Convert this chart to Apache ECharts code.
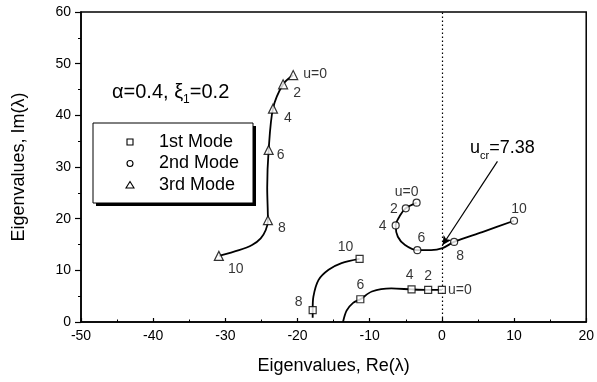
<!DOCTYPE html>
<html>
<head>
<meta charset="utf-8">
<script src="https://cdn.jsdelivr.net/npm/echarts@6/dist/echarts.min.js"></script>
<style>
  html, body { margin: 0; padding: 0; background: #fff; }
  #chart { width: 597px; height: 382px; }
</style>
</head>
<body>
<div id="chart"></div>
<script>
const FONT = '"Liberation Sans", Arial, Helvetica, sans-serif';

// Flow parameter u at each marked point on every locus
const uLabels = ['u=0', '2', '4', '6', '8', '10'];

// 1st mode: marked eigenvalues
const mode1Re = [0.0, -1.9, -4.2, -11.3, -17.9, -11.4];
const mode1Im = [6.2, 6.2, 6.3, 4.4, 2.3, 12.2];
// 1st mode locus: complex branch down to the real axis, then the second branch
const mode1PathA = [[0.0, 6.2], [-1.9, 6.2], [-4.2, 6.3], [-7.0, 6.5], [-9.7, 5.9], [-11.3, 4.4], [-12.3, 3.7], [-13.2, 2.2], [-13.7, 0.0]];
const mode1PathB = [[-17.9, 0.8], [-17.9, 2.3], [-17.8, 4.9], [-17.1, 8.1], [-15.7, 10.1], [-13.9, 11.4], [-11.4, 12.2]];

// 2nd mode
const mode2Re = [-3.5, -5.0, -6.4, -3.4, 1.7, 10.0];
const mode2Im = [23.1, 22.0, 18.7, 13.9, 15.5, 19.6];
const mode2Path = [[-3.5, 23.1], [-5.0, 22.0], [-5.8, 20.6], [-6.4, 18.7], [-6.1, 16.5], [-5.1, 14.9], [-3.4, 13.9], [-1.5, 13.9], [0.1, 14.3], [1.7, 15.5], [5.6, 17.4], [10.0, 19.6]];

// 3rd mode
const mode3Re = [-20.6, -22.0, -23.4, -24.0, -24.1, -30.9];
const mode3Im = [47.8, 46.0, 41.3, 33.3, 19.7, 12.8];
const mode3Path = [[-20.6, 47.8], [-22.0, 46.0], [-23.4, 41.3], [-24.0, 33.3], [-24.2, 26.0], [-24.1, 19.7], [-24.4, 17.8], [-25.1, 16.2], [-26.3, 14.9], [-28.1, 13.9], [-30.9, 12.8]];

// Flutter onset: arrow from the note to the crossing point
const criticalArrow = [[7.7, 31.1], [0.1, 14.9]];
const legendNames = ['1st Mode', '2nd Mode', '3rd Mode'];

// Label placement (pixel offsets from each marker)
const mode1LabelOffset = [[18, 0], [0, -14], [-2, -14], [0, -14], [-14, -8], [-14, -12]];
const mode2LabelOffset = [[-10, -11], [-12, 1], [-13, 1], [4, -12], [6, 14], [5, -12]];
const mode3LabelOffset = [[22, -1], [14, 9], [15, 10], [12, 5], [14, 8], [17, 13]];

const chart = echarts.init(document.getElementById('chart'), null, { renderer: 'canvas' });

function markers(re, im, offsets) {
  return re.map((x, i) => ({ value: [x, im[i]], label: { offset: offsets[i] } }));
}

const lineStyle = { color: '#000', width: 1.8 };
function locus(path) {
  return {
    type: 'line', data: path, showSymbol: false, symbol: 'none',
    smooth: 0.3, lineStyle, silent: true, z: 2, animation: false
  };
}
function markerSeries(name, symbol, size, data) {
  return {
    name, type: 'scatter', data, symbol, symbolSize: size, z: 5, silent: true,
    itemStyle: { color: '#fff', borderColor: '#000', borderWidth: 1.2 },
    label: {
      show: true, position: 'inside', color: '#000', fontFamily: FONT, fontSize: 14,
      formatter: p => uLabels[p.dataIndex]
    },
    animation: false
  };
}

// Text width helper for composing sub-scripted notes
const measureCtx = document.createElement('canvas').getContext('2d');
function textWidth(str, size) {
  measureCtx.font = size + 'px ' + FONT;
  return measureCtx.measureText(str).width;
}
function subscriptNote(x, y, parts) {
  // parts: [text, fontSize, downward shift]
  const children = [];
  let cx = 0;
  parts.forEach(([t, fs, dy]) => {
    children.push({
      type: 'text', x: cx, y: dy,
      style: { text: t, fontFamily: FONT, fontSize: fs, fill: '#000', verticalAlign: 'bottom', textVerticalAlign: 'bottom' }
    });
    cx += textWidth(t, fs);
  });
  return { type: 'group', x, y, children, silent: true };
}

// Boxed legend with a hard drop shadow
const legendBox = { x: 93, y: 123, w: 160, h: 80 };
const legendRowY = [142, 163.5, 185];
const legendGraphic = {
  type: 'group', silent: true, z: 20,
  children: [
    { type: 'rect', shape: { x: legendBox.x + 3, y: legendBox.y + 3, width: legendBox.w, height: legendBox.h }, style: { fill: '#000' } },
    { type: 'rect', shape: { x: legendBox.x, y: legendBox.y, width: legendBox.w, height: legendBox.h }, style: { fill: '#fff', stroke: '#000', lineWidth: 1 } },
    { type: 'rect', shape: { x: 127, y: legendRowY[0] - 3, width: 6, height: 6 }, style: { fill: '#fff', stroke: '#000', lineWidth: 1.1 } },
    { type: 'circle', shape: { cx: 130, cy: legendRowY[1], r: 3 }, style: { fill: '#fff', stroke: '#000', lineWidth: 1.1 } },
    { type: 'polygon', shape: { points: [[130, legendRowY[2] - 3.5], [134, legendRowY[2] + 3], [126, legendRowY[2] + 3]] }, style: { fill: '#fff', stroke: '#000', lineWidth: 1.1 } },
    ...legendNames.map((n, i) => ({
      type: 'text', x: 159, y: legendRowY[i],
      style: { text: n, fontFamily: FONT, fontSize: 18, fill: '#000', verticalAlign: 'middle', textVerticalAlign: 'middle' }
    }))
  ]
};

const option = {
  animation: false,
  backgroundColor: '#fff',
  grid: { left: 81, right: 8, top: 12, bottom: 60, show: true, borderColor: '#000', borderWidth: 1.5, backgroundColor: 'transparent' },
  xAxis: {
    type: 'value', min: -50, max: 20, interval: 10,
    name: 'Eigenvalues, Re(λ)', nameLocation: 'middle', nameGap: 35,
    nameTextStyle: { fontFamily: FONT, fontSize: 18, color: '#000' },
    axisLine: { onZero: false, lineStyle: { color: '#000', width: 1.5 } },
    axisTick: { inside: true, length: 4, lineStyle: { color: '#000', width: 1.2 } },
    minorTick: { show: true, splitNumber: 2, length: 2.5, lineStyle: { color: '#000', width: 1 } },
    axisLabel: { fontFamily: FONT, fontSize: 14, color: '#000', margin: 7 },
    splitLine: { show: false }
  },
  yAxis: {
    type: 'value', min: 0, max: 60, interval: 10,
    name: 'Eigenvalues, Im(λ)', nameLocation: 'middle', nameGap: 53,
    nameTextStyle: { fontFamily: FONT, fontSize: 18, color: '#000', padding: [0, 0, 0, 0] },
    axisLine: { onZero: false, lineStyle: { color: '#000', width: 1.5 } },
    axisTick: { inside: false, length: 6, lineStyle: { color: '#000', width: 1.2 } },
    minorTick: { show: true, splitNumber: 2, length: 3, lineStyle: { color: '#000', width: 1 } },
    axisLabel: { fontFamily: FONT, fontSize: 14, color: '#000', margin: 10 },
    splitLine: { show: false }
  },
  series: [
    Object.assign(locus(mode1PathA), {
      markLine: {
        silent: true, animation: false, symbol: ['none', 'none'], label: { show: false },
        lineStyle: { color: '#000', type: [1.5, 2.5], width: 1.2 },
        data: [{ xAxis: 0 }]
      }
    }),
    locus(mode1PathB),
    locus(mode2Path),
    Object.assign(locus(mode3Path), {
      markLine: {
        silent: true, animation: false, symbol: ['none', 'arrow'], symbolSize: [7, 9],
        label: { show: false },
        lineStyle: { color: '#000', type: 'solid', width: 1.2 },
        data: [[{ coord: criticalArrow[0] }, { coord: criticalArrow[1] }]]
      }
    }),
    markerSeries(legendNames[0], 'rect', 7, markers(mode1Re, mode1Im, mode1LabelOffset)),
    markerSeries(legendNames[1], 'circle', 7, markers(mode2Re, mode2Im, mode2LabelOffset)),
    markerSeries(legendNames[2], 'triangle', 9, markers(mode3Re, mode3Im, mode3LabelOffset))
  ],
  graphic: [
    legendGraphic,
    subscriptNote(112, 102, [['α=0.4, ξ', 20, 0], ['1', 12, 4], ['=0.2', 20, 0]]),
    subscriptNote(470, 157, [['u', 18, 0], ['cr', 11, 4], ['=7.38', 18, 0]])
  ]
};

chart.setOption(option);
</script>
</body>
</html>
